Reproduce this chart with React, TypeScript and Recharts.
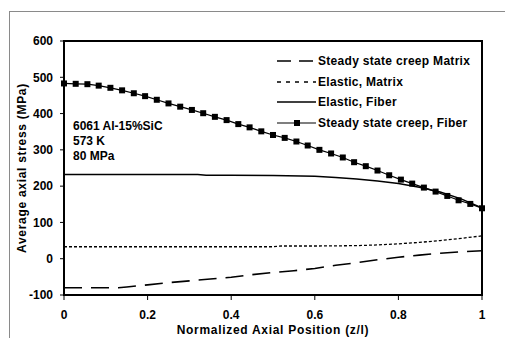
import {
  LineChart,
  Line,
  XAxis,
  YAxis,
  ReferenceArea,
  Label,
} from "recharts";

// fiber, steady state creep (square markers)
const fiberCreepX = [
  0, 0.028, 0.056, 0.083, 0.111, 0.139, 0.167, 0.194, 0.222, 0.25, 0.278,
  0.306, 0.333, 0.361, 0.389, 0.417, 0.444, 0.472, 0.5, 0.528, 0.556, 0.583,
  0.611, 0.639, 0.667, 0.694, 0.722, 0.75, 0.778, 0.806, 0.833, 0.861, 0.889,
  0.917, 0.944, 0.972, 1,
];
const fiberCreepY = [
  483, 482, 481, 477, 471, 464, 456, 448, 438, 428, 419, 410, 401, 391, 382,
  371, 362, 351, 341, 333, 323, 312, 300, 290, 279, 266, 255, 243, 230, 218,
  207, 196, 185, 173, 161, 151, 139,
];

// fiber, elastic
const fiberElasticX = [0, 0.1, 0.2, 0.32, 0.34, 0.4, 0.5, 0.6, 0.65, 0.7, 0.75, 0.8, 0.85, 0.9, 0.95, 1];
const fiberElasticY = [232, 232, 232, 232, 230, 230, 229, 227, 224, 220, 214, 207, 197, 184, 165, 140];

// matrix, steady state creep
const matrixCreepX = [
  0, 0.05, 0.1, 0.13, 0.15, 0.2, 0.25, 0.3, 0.35, 0.4, 0.45, 0.5, 0.55, 0.6,
  0.65, 0.7, 0.75, 0.8, 0.85, 0.9, 0.95, 1,
];
const matrixCreepY = [
  -80, -80, -80, -80, -78, -72, -66, -61, -56, -51, -44, -38, -33, -27, -18,
  -11, -3, 4, 10, 15, 19, 22,
];

// matrix, elastic
const matrixElasticX = [0, 0.1, 0.2, 0.3, 0.4, 0.5, 0.52, 0.6, 0.7, 0.75, 0.8, 0.85, 0.9, 0.95, 1];
const matrixElasticY = [33, 33, 33, 33, 33, 33, 35, 35, 36, 38, 41, 45, 50, 56, 63];

const xTicks = [0, 0.2, 0.4, 0.6, 0.8, 1];
const yTicks = [-100, 0, 100, 200, 300, 400, 500, 600];
const notes = ["6061 Al-15%SiC", "573 K", "80 MPa"];

const toPoints = (xs: number[], ys: number[]) => xs.map((x, i) => ({ x, y: ys[i] }));

const FONT = '"Liberation Sans", Arial, sans-serif';
const tickStyle = { fontSize: 12, fontWeight: 700, fill: "#000", fontFamily: FONT };
const titleStyle = {
  fontSize: 12,
  fontWeight: 700,
  fill: "#000",
  fontFamily: FONT,
  letterSpacing: 0.7,
};

const SquareDot = (props: any) => {
  const { cx, cy } = props;
  if (cx == null || cy == null) return null;
  return <rect x={cx - 3} y={cy - 3} width={6} height={6} fill="#000" />;
};

const legendRows = [
  { name: "Steady state creep Matrix", dash: "14 8", marker: false, sw: 1.6 },
  { name: "Elastic, Matrix", dash: "4 5", marker: false, sw: 1.3 },
  { name: "Elastic, Fiber", dash: undefined, marker: false, sw: 1.5 },
  { name: "Steady state creep, Fiber", dash: undefined, marker: true, sw: 1.2 },
];

export default function App() {
  return (
    <div
      style={{
        position: "absolute",
        left: 0,
        top: 0,
        width: 505,
        height: 338,
        background: "#fff",
        overflow: "hidden",
        fontFamily: FONT,
      }}
    >
      {/* outer frame, cut at right and bottom */}
      <div
        style={{
          position: "absolute",
          left: 9,
          top: 11,
          width: 496,
          height: 327,
          borderLeft: "1px solid #8a8a8a",
          borderTop: "1px solid #8a8a8a",
        }}
      />
      <LineChart
        width={505}
        height={338}
        margin={{ top: 41, right: 23, bottom: 13, left: 4 }}
        style={{ position: "absolute", left: 0, top: 0 }}
      >
        <XAxis
          type="number"
          dataKey="x"
          domain={[0, 1]}
          ticks={xTicks}
          tickFormatter={(v: number) => String(v)}
          tick={tickStyle}
          tickSize={5}
          tickMargin={10}
          height={30}
          axisLine={{ stroke: "#000", strokeWidth: 2 }}
          tickLine={{ stroke: "#000", strokeWidth: 1 }}
          allowDuplicatedCategory={false}
        >
          <Label
            value="Normalized Axial Position (z/l)"
            position="bottom"
            offset={0}
            style={titleStyle}
          />
        </XAxis>
        <YAxis
          type="number"
          domain={[-100, 600]}
          ticks={yTicks}
          tick={tickStyle}
          tickSize={4}
          tickMargin={7}
          width={60}
          axisLine={{ stroke: "#000", strokeWidth: 2 }}
          tickLine={{ stroke: "#000", strokeWidth: 1 }}
        >
          <Label
            value="Average axial stress (MPa)"
            angle={-90}
            position="center"
            dx={-12}
            style={titleStyle}
          />
        </YAxis>
        <ReferenceArea
          x1={0}
          x2={1}
          y1={-100}
          y2={600}
          fill="none"
          fillOpacity={0}
          stroke="#000"
          strokeWidth={2}
        />
        <Line
          data={toPoints(matrixCreepX, matrixCreepY)}
          dataKey="y"
          type="linear"
          stroke="#000"
          strokeWidth={1.6}
          strokeDasharray="18 9"
          dot={false}
          isAnimationActive={false}
        />
        <Line
          data={toPoints(matrixElasticX, matrixElasticY)}
          dataKey="y"
          type="linear"
          stroke="#000"
          strokeWidth={1.3}
          strokeDasharray="3 2"
          dot={false}
          isAnimationActive={false}
        />
        <Line
          data={toPoints(fiberElasticX, fiberElasticY)}
          dataKey="y"
          type="linear"
          stroke="#000"
          strokeWidth={1.5}
          dot={false}
          isAnimationActive={false}
        />
        <Line
          data={toPoints(fiberCreepX, fiberCreepY)}
          dataKey="y"
          type="linear"
          stroke="#000"
          strokeWidth={1.2}
          dot={<SquareDot />}
          isAnimationActive={false}
        />
      </LineChart>

      {/* legend */}
      <div style={{ position: "absolute", left: 276, top: 51 }}>
        {legendRows.map((r) => (
          <div
            key={r.name}
            style={{ display: "flex", alignItems: "center", height: 20.5 }}
          >
            <svg width={42} height={10} style={{ display: "block" }}>
              <line
                x1={1}
                x2={40}
                y1={5}
                y2={5}
                stroke="#000"
                strokeWidth={r.sw}
                strokeDasharray={r.dash}
              />
              {r.marker && <rect x={18} y={2} width={6} height={6} fill="#000" />}
            </svg>
            <span
              style={{
                fontSize: 12,
                fontWeight: 700,
                color: "#000",
                whiteSpace: "nowrap",
                letterSpacing: 0.3,
              }}
            >
              {r.name}
            </span>
          </div>
        ))}
      </div>

      {/* annotation */}
      <div style={{ position: "absolute", left: 73, top: 119 }}>
        {notes.map((n) => (
          <div key={n} style={{ fontSize: 12, fontWeight: 700, color: "#000", lineHeight: "15px" }}>
            {n}
          </div>
        ))}
      </div>
    </div>
  );
}
